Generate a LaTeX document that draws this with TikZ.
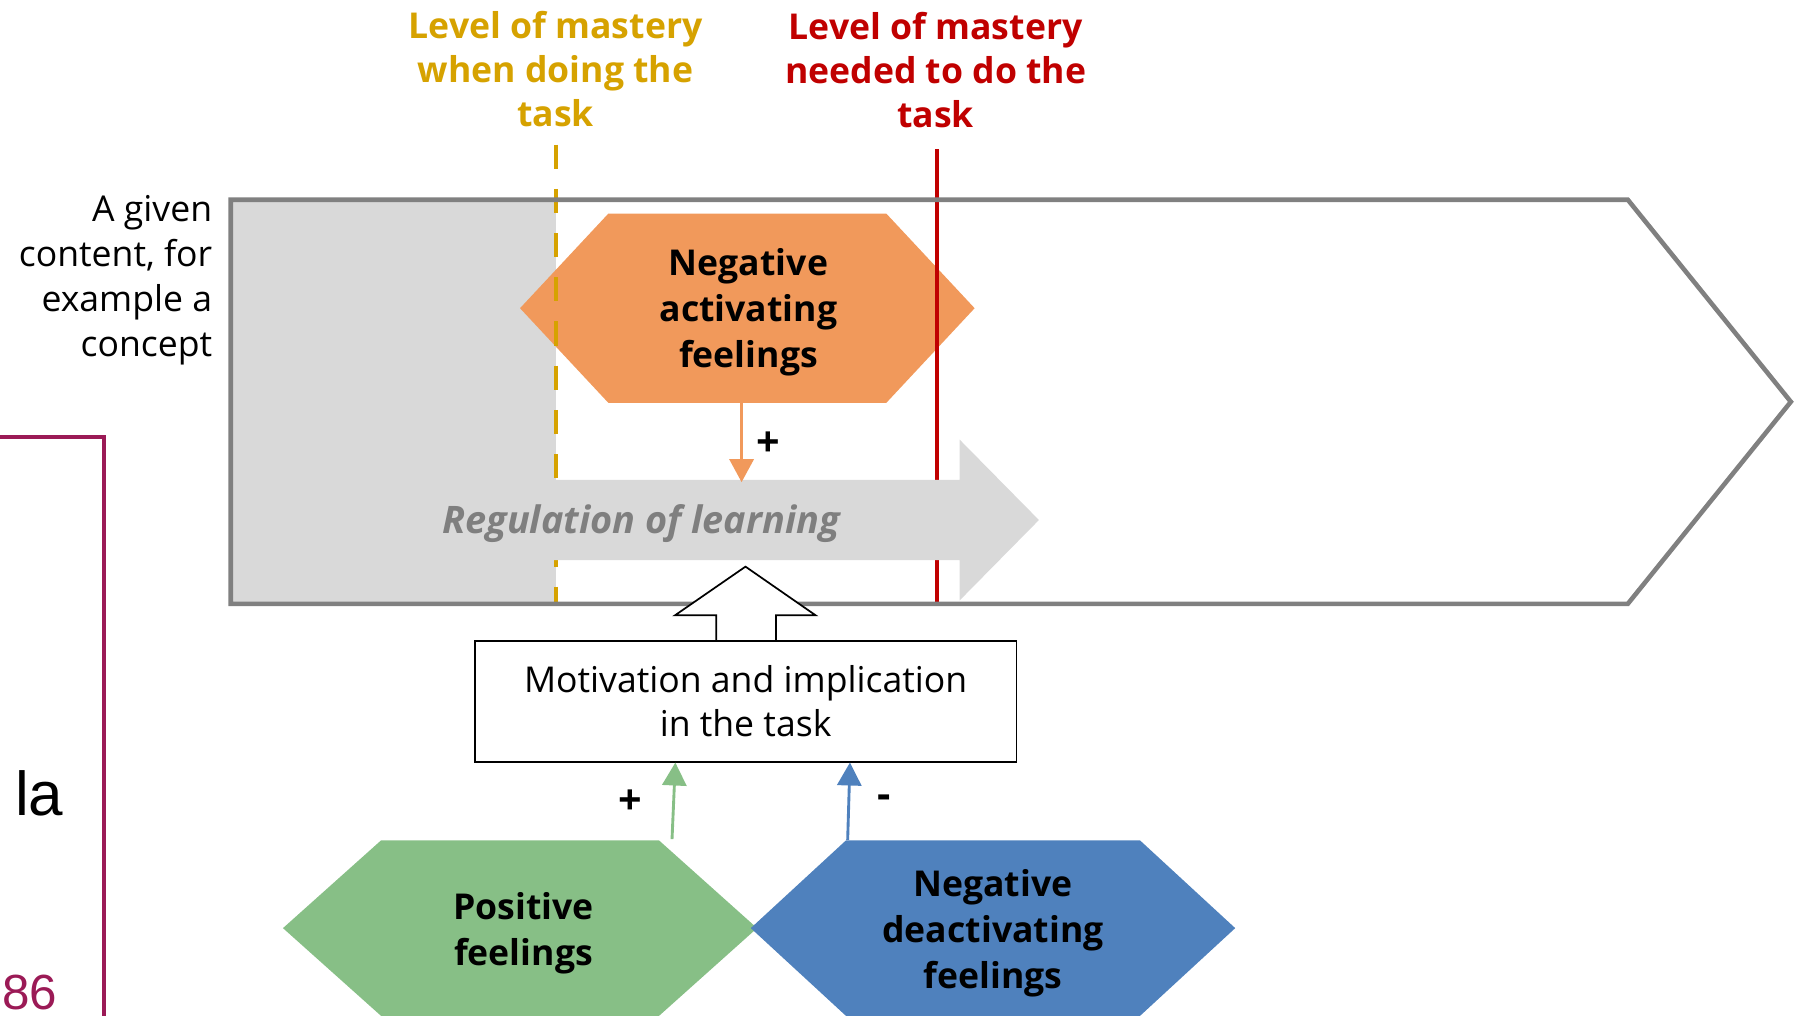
\documentclass[tikz,border=0pt]{standalone}
\usepackage{fontspec}
\setmainfont{Open Sans}
\newfontfamily\libsans{Liberation Sans}
\usetikzlibrary{calc,arrows.meta}
\definecolor{ygold}{RGB}{214,162,0}
\definecolor{rred}{RGB}{192,0,0}
\definecolor{orangeF}{RGB}{241,153,91}
\definecolor{greenF}{RGB}{135,191,134}
\definecolor{blueF}{RGB}{79,129,189}
\definecolor{grayF}{RGB}{217,217,217}
\definecolor{grayL}{RGB}{128,128,128}
\definecolor{regtxt}{RGB}{127,127,127}
\definecolor{maroon}{RGB}{155,26,86}
% name, cx, cy, half width, half height, inset, colour
\newcommand\hexfill[7]{%
  \coordinate (#1-w)  at ({#2-#4},#3);
  \coordinate (#1-nw) at ({#2-#4+#6},{#3-#5});
  \coordinate (#1-ne) at ({#2+#4-#6},{#3-#5});
  \coordinate (#1-e)  at ({#2+#4},#3);
  \coordinate (#1-se) at ({#2+#4-#6},{#3+#5});
  \coordinate (#1-sw) at ({#2-#4+#6},{#3+#5});
  \fill[#7] (#1-w) -- (#1-nw) -- (#1-ne) -- (#1-e) -- (#1-se) -- (#1-sw) -- cycle;}
\begin{document}
\begin{tikzpicture}[x=1pt,y=-1pt,
  title/.style={font=\bfseries\fontsize{31}{38.5}\selectfont, align=center, inner sep=0},
  bodytxt/.style={font=\fontsize{31}{38}\selectfont, align=center, inner sep=0},
  hextxt/.style={font=\bfseries\fontsize{31}{40}\selectfont, align=center, inner sep=0, text=black},
  signtxt/.style={font=\bfseries\fontsize{36}{36}\selectfont, inner sep=0},
  conn/.style={line width=2.5pt, -{Triangle[width=21pt,length=20pt]}},
  marker/.style={line width=3.5pt}]
\useasboundingbox (0,0) rectangle (1568,885);
\clip (0,0) rectangle (1568,885);

% mastered part of the content
\fill[grayF] (201,174) rectangle (484,526);

% negative activating feelings (hexagon)
\hexfill{na}{651}{268.5}{198}{82.5}{77}{orangeF}

% mastery levels
\coordinate (ytop) at (484,126);
\coordinate (ybot) at (484,526);
\coordinate (rtop) at (816,130);
\coordinate (rbot) at (816,526);
\draw[marker, ygold, dash pattern=on 21pt off 17.5pt] (ytop) -- (ybot);
\draw[marker, rred] (rtop) -- (rbot);

% regulation of learning arrow
\fill[grayF] (201,418) -- (836,418) -- (836,383) -- (905,453) -- (836,523)
  -- (836,488) -- (201,488) -- cycle;

% content outline
\draw[grayL, line width=4pt, line join=miter]
  (201,174) -- (1418,174) -- (1560,350) -- (1418,526) -- (201,526) -- cycle;

% texts
\node[title, text=ygold] (t1) at (484,60) {Level of mastery\\when doing the\\task};
\node[title, text=rred] (t2) at (815,61) {Level of mastery\\needed to do the\\task};
\node[bodytxt, align=right, anchor=east, font=\fontsize{31}{39}\selectfont] (content) at (185,244)
  {A given\\content, for\\example a\\concept};
\node[hextxt] (natxt) at (652,272) {Negative\\activating\\feelings};
\node[font=\bfseries\itshape\fontsize{33}{38}\selectfont, text=regtxt, inner sep=0]
  (reg) at (558.5,456) {Regulation of learning};

% negative activating -> regulation
\coordinate (naout) at (646,351);
\coordinate (regin) at (646,420);
\draw[conn, orangeF] (naout) -- (regin);
\node[signtxt] (p1) at (669,387) {+};

% motivation box
\node[draw=black, fill=white, line width=1.5pt, minimum width=472pt, minimum height=105pt,
  inner sep=0, bodytxt] (mot) at (649.5,611) {Motivation and implication\\in the task};

% hollow arrow from motivation to regulation
\draw[black, fill=white, line width=1.5pt, line join=miter]
  (624,557.5) -- (624,536) -- (588,536) -- (649.4,493.6)
  -- (710.5,536) -- (676,536) -- (676,557.5);

% positive feelings
\hexfill{pf}{453}{808.5}{206.5}{76.5}{85.5}{greenF}
\node[hextxt] (pftxt) at (456,813) {Positive\\feelings};
% negative deactivating feelings
\hexfill{nd}{865}{808.5}{211}{76.5}{83}{blueF}
\node[hextxt] (ndtxt) at (865,813) {Negative\\deactivating\\feelings};

\coordinate (pfout) at (585.4,731);
\coordinate (ndout) at (738.4,731.7);
\draw[conn, greenF] (pfout) -- (mot.south -| 588.3,0);
\draw[conn, blueF] (ndout) -- (mot.south -| 740.4,0);
\node[signtxt] (p2) at (548.8,699) {+};
\node[signtxt] (m1) at (770,698) {-};

% fragment of neighbouring slide
\coordinate (fa) at (0,381);
\coordinate (fb) at (91,381);
\coordinate (fc) at (91,890);
\draw[maroon, line width=3.5pt] (fa) -- (fb) -- (fc);
\node[font=\libsans\fontsize{54}{54}\selectfont, anchor=base west, inner sep=0] (la) at (13,710) {la};
\node[font=\libsans\fontsize{43}{43}\selectfont, text=maroon, anchor=base west, inner sep=0] (pg) at (2,879) {86};
\end{tikzpicture}
\end{document}
